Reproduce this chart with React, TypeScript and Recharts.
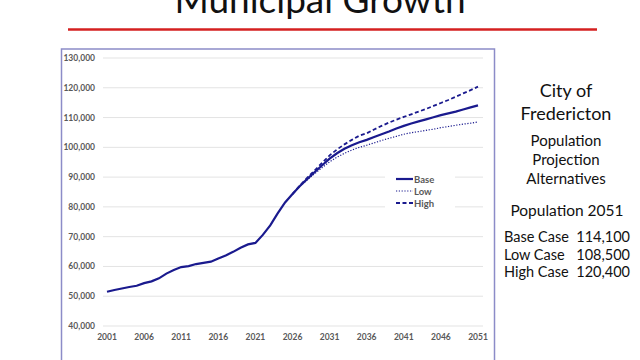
import { LineChart, Line, XAxis, YAxis, CartesianGrid, Legend } from 'recharts'

/* ---------- data ---------- */
const years = [
  2001, 2002, 2003, 2004, 2005, 2006, 2007, 2008, 2009, 2010,
  2011, 2012, 2013, 2014, 2015, 2016, 2017, 2018, 2019, 2020,
  2021, 2022, 2023, 2024, 2025, 2026, 2027, 2028, 2029, 2030,
  2031, 2032, 2033, 2034, 2035, 2036, 2037, 2038, 2039, 2040,
  2041, 2042, 2043, 2044, 2045, 2046, 2047, 2048, 2049, 2050, 2051,
]

const baseCase = [
  51500, 52100, 52600, 53100, 53500, 54400, 55000, 56000, 57600, 58800,
  59800, 60100, 60800, 61200, 61600, 62700, 63700, 64900, 66300, 67400,
  67900, 70600, 73800, 77800, 81500, 84300, 87000, 89400, 91700, 94000,
  96200, 98000, 99500, 100700, 101700, 102500, 103500, 104400, 105300, 106300,
  107200, 108000, 108700, 109400, 110100, 110800, 111400, 112000, 112700, 113400, 114100,
]

const projectionYears = [
  2026, 2027, 2028, 2029, 2030, 2031, 2032, 2033, 2034, 2035, 2036, 2037, 2038,
  2039, 2040, 2041, 2042, 2043, 2044, 2045, 2046, 2047, 2048, 2049, 2050, 2051,
]

const lowCase = [
  84300, 86900, 89100, 91200, 93200, 95100, 96700, 98000, 99100, 100000, 100700, 101500, 102300,
  103000, 103700, 104400, 104900, 105300, 105700, 106100, 106600, 107000, 107400, 107800, 108100, 108500,
]

const highCase = [
  84300, 87200, 89800, 92300, 94800, 97300, 99300, 101000, 102500, 103900, 104700, 106000, 107200,
  108300, 109300, 110200, 111100, 112000, 112900, 113900, 114900, 115900, 117000, 118100, 119200, 120400,
]

const xTicks = [2001, 2006, 2011, 2016, 2021, 2026, 2031, 2036, 2041, 2046, 2051]
const yTicks = [40000, 50000, 60000, 70000, 80000, 90000, 100000, 110000, 120000, 130000]

const summary = [
  { label: 'Base Case', value: '114,100' },
  { label: 'Low Case', value: '108,500' },
  { label: 'High Case', value: '120,400' },
]

const data = years.map((year, i) => {
  const j = projectionYears.indexOf(year)
  return {
    year,
    base: baseCase[i],
    low: j >= 0 ? lowCase[j] : null,
    high: j >= 0 ? highCase[j] : null,
  }
})

const NAVY = '#1a1a8e'
const FONT = 'Lato, "Open Sans", sans-serif'
const tick = { fill: '#595959', fontSize: 8.5, fontWeight: 700, fontFamily: FONT }

const legendRows = [
  { label: 'Base', width: 2.2, dash: undefined as string | undefined },
  { label: 'Low', width: 1.2, dash: '1.2 1.6' },
  { label: 'High', width: 1.8, dash: '4 2.5' },
]

function LegendBox() {
  return (
    <div style={{ background: '#fff', padding: '2px 8px 2px 11px', fontFamily: FONT }}>
      {legendRows.map((r) => (
        <div key={r.label} style={{ display: 'flex', alignItems: 'center', height: 12 }}>
          <svg width={17} height={12}>
            <line x1={0} x2={17} y1={6} y2={6} stroke={NAVY} strokeWidth={r.width} strokeDasharray={r.dash} />
          </svg>
          <span style={{ marginLeft: 1, fontSize: 9.5, fontWeight: 700, color: '#595959' }}>{r.label}</span>
        </div>
      ))}
    </div>
  )
}

export default function App() {
  return (
    <div style={{ position: 'fixed', left: 0, top: 0, width: 640, height: 360, overflow: 'hidden', background: '#fff' }}>
      <svg width={640} height={360} style={{ position: 'absolute', left: 0, top: 0 }}>
        {/* slide title: its upper half sits above the crop, as on the slide */}
        <text x={320} y={13} textAnchor="middle" fontFamily={FONT} fontSize={37} fill="#111">Municipal Growth</text>
        <line x1={68} x2={597} y1={29.5} y2={29.5} stroke="#d42020" strokeWidth={2.5} />
        <rect x={61.5} y={49} width={433} height={330} fill="none" stroke="#8c8cc8" strokeWidth={1.5} />
        <g fontFamily={FONT} fill="#111" textAnchor="middle">
          <text x={566} y={97} fontSize={18}>City of</text>
          <text x={566} y={120} fontSize={18}>Fredericton</text>
          <text x={566} y={146} fontSize={15}>Population</text>
          <text x={566} y={165} fontSize={15}>Projection</text>
          <text x={566} y={184} fontSize={15}>Alternatives</text>
          <text x={567} y={216} fontSize={15.5}>Population 2051</text>
        </g>
        <g fontFamily={FONT} fill="#111" fontSize={14.5}>
          {summary.map((s, i) => (
            <g key={s.label}>
              <text x={504} y={242 + i * 17.7}>{s.label}</text>
              <text x={630} y={242 + i * 17.7} textAnchor="end">{s.value}</text>
            </g>
          ))}
        </g>
      </svg>
      <div style={{ position: 'absolute', left: 62, top: 49 }}>
        <LineChart width={433} height={311} data={data} margin={{ top: 9, right: 12, bottom: 10, left: 0 }}>
          <CartesianGrid stroke="#e3e3e3" vertical={false} />
          <XAxis
            dataKey="year"
            type="number"
            domain={[2001, 2051]}
            ticks={xTicks}
            padding={{ left: 4, right: 5 }}
            tick={tick}
            axisLine={false}
            tickLine={false}
            height={24}
          />
          <YAxis
            domain={[40000, 130000]}
            ticks={yTicks}
            tick={tick}
            tickFormatter={(v) => Number(v).toLocaleString('en-US')}
            axisLine={false}
            tickLine={false}
            width={41}
          />
          <Legend
            layout="vertical"
            align="center"
            verticalAlign="middle"
            wrapperStyle={{ left: 323, top: 122, width: 70 }}
            content={() => <LegendBox />}
          />
          <Line dataKey="low" stroke={NAVY} strokeWidth={1.2} strokeDasharray="1.2 1.6" dot={false} isAnimationActive={false} />
          <Line dataKey="high" stroke={NAVY} strokeWidth={1.8} strokeDasharray="4 2.5" dot={false} isAnimationActive={false} />
          <Line dataKey="base" stroke={NAVY} strokeWidth={2.2} dot={false} isAnimationActive={false} />
        </LineChart>
      </div>
    </div>
  )
}
